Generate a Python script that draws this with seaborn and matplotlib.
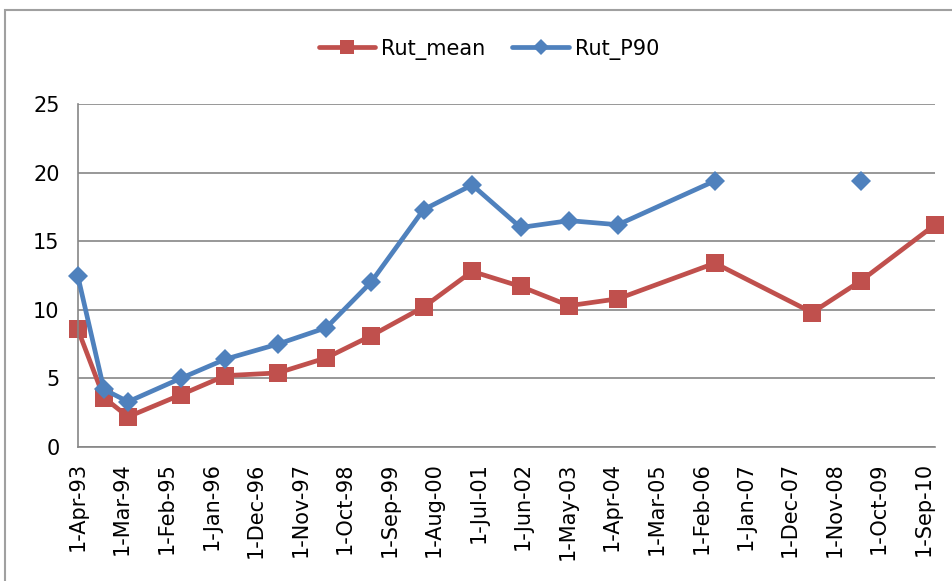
import pandas as pd
import numpy as np
import matplotlib
matplotlib.use('Agg')
import matplotlib.pyplot as plt
from matplotlib.lines import Line2D
from matplotlib.patches import Rectangle
import seaborn as sns

# Values
dates = ['1993-04-01', '1993-10-15', '1994-04-15', '1995-05-15', '1996-04-15',
         '1997-05-15', '1998-05-15', '1999-04-15', '2000-05-15', '2001-05-15',
         '2002-05-15', '2003-05-15', '2004-05-15', '2006-05-15', '2008-05-15',
         '2009-05-15', '2010-11-25']
rut_mean = [8.6, 3.6, 2.2, 3.8, 5.2, 5.4, 6.5, 8.1, 10.2, 12.8,
            11.7, 10.3, 10.8, 13.4, 9.8, 12.1, 16.2]
rut_p90 = [12.5, 4.2, 3.3, 5.0, 6.4, 7.5, 8.7, 12.0, 17.3, 19.1,
           16.0, 16.5, 16.2, 19.4, np.nan, 19.4, np.nan]
y_ticks = [0, 5, 10, 15, 20, 25]
x_ticks = pd.date_range('1993-04-01', periods=20, freq='11MS')
x_labels = [f"1-{d.strftime('%b-%y')}" for d in x_ticks]

df = pd.DataFrame({'date': pd.to_datetime(dates), 'Rut_mean': rut_mean, 'Rut_P90': rut_p90})

red = '#C0504D'
blue = '#4F81BD'
grid = '#868686'

sns.set_style('white')
plt.rcParams['font.family'] = ['DejaVu Sans']
plt.rcParams['text.color'] = 'black'
plt.rcParams['xtick.labelcolor'] = 'black'
plt.rcParams['ytick.labelcolor'] = 'black'

fig = plt.figure(figsize=(9.52, 5.81), dpi=100)
ax = fig.add_axes([77.7 / 952, 1 - 447 / 581, (935 - 77.7) / 952, (447 - 104) / 581])

# P90 has gaps, so draw each contiguous run on its own
p90 = df[['date', 'Rut_P90']].copy()
p90['run'] = p90['Rut_P90'].isna().cumsum()
p90 = p90.dropna()
for _, part in p90.groupby('run'):
    sns.lineplot(data=part, x='date', y='Rut_P90', ax=ax, color=blue, lw=3.4,
                 marker='D', markersize=10, markeredgewidth=0, zorder=3, clip_on=False)
sns.lineplot(data=df, x='date', y='Rut_mean', ax=ax, color=red, lw=3.4,
             marker='s', markersize=13, markeredgewidth=0, zorder=2, clip_on=False)

ax.set_xlim(df['date'].iloc[0], df['date'].iloc[-1])
ax.set_ylim(0, 25)
ax.set_yticks(y_ticks)
ax.set_xticks(x_ticks)
ax.set_xticklabels(x_labels, rotation=90, fontsize=15)
ax.tick_params(axis='y', labelsize=15, length=7, color=grid, width=1.2, pad=6)
ax.tick_params(axis='x', length=7, color=grid, width=1.2, pad=4)
ax.yaxis.grid(True, color=grid, lw=1.2)
ax.set_axisbelow(True)
ax.set_xlabel('')
ax.set_ylabel('')
for s in ['top', 'right']:
    ax.spines[s].set_visible(False)
for s in ['left', 'bottom']:
    ax.spines[s].set_color(grid)
    ax.spines[s].set_linewidth(1.2)

handles = [Line2D([], [], color=red, lw=3.4, marker='s', markersize=10, markeredgewidth=0),
           Line2D([], [], color=blue, lw=3.4, marker='D', markersize=8, markeredgewidth=0)]
fig.legend(handles, ['Rut_mean', 'Rut_P90'], loc='center', bbox_to_anchor=(489 / 952, 1 - 49 / 581),
           ncol=2, frameon=False, fontsize=15, handlelength=2.7, handletextpad=0.3,
           columnspacing=1.3)

fig.patches.append(Rectangle((5 / 952, -0.1), 1.2, 1 - 10 / 581 + 0.1, transform=fig.transFigure,
                             fill=False, edgecolor='#A0A0A0', lw=1.5))

fig.savefig('out.png', dpi=100)
